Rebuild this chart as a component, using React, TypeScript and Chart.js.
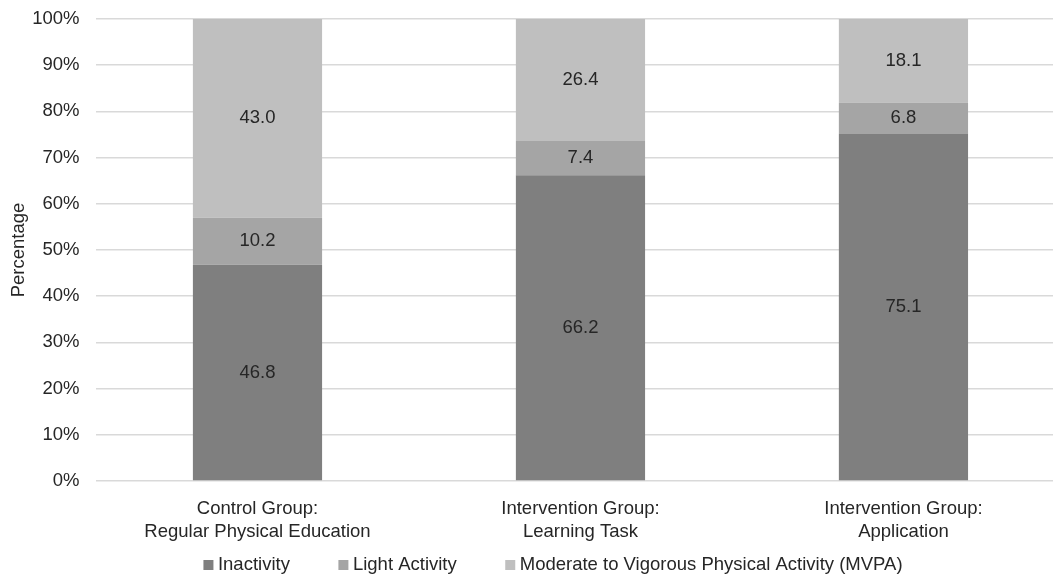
import React, { useEffect, useRef } from "react";
import { Chart, registerables } from "chart.js";

Chart.register(...registerables);

const categories: string[][] = [
  ["Control Group:", "Regular Physical Education"],
  ["Intervention Group:", "Learning Task"],
  ["Intervention Group:", "Application"],
];
const seriesNames = [
  "Inactivity",
  "Light Activity",
  "Moderate to Vigorous Physical Activity (MVPA)",
];
const inactivity = [46.8, 66.2, 75.1];
const lightActivity = [10.2, 7.4, 6.8];
const mvpa = [43.0, 26.4, 18.1];
const yTicks = [0, 10, 20, 30, 40, 50, 60, 70, 80, 90, 100];

const colors = ["#7f7f7f", "#a5a5a5", "#bfbfbf"];
const FONT = "'Liberation Sans', Arial, sans-serif";
const FS = 18.5;
const TEXT = "#262626";

const dataLabelPlugin = {
  id: "dataLabels",
  afterDatasetsDraw(chart: any) {
    const ctx = chart.ctx;
    ctx.save();
    ctx.font = `${FS}px ${FONT}`;
    ctx.fillStyle = TEXT;
    ctx.textAlign = "center";
    ctx.textBaseline = "middle";
    chart.data.datasets.forEach((ds: any, di: number) => {
      const meta = chart.getDatasetMeta(di);
      meta.data.forEach((el: any, i: number) => {
        const v = ds.data[i].y;
        const cy = (el.y + el.base) / 2;
        ctx.fillText(v.toFixed(1), el.x, cy);
      });
    });
    ctx.restore();
  },
};

const legendPlugin = {
  id: "bottomLegend",
  afterDraw(chart: any) {
    const ctx = chart.ctx;
    ctx.save();
    ctx.font = `${FS}px ${FONT}`;
    ctx.textBaseline = "middle";
    ctx.textAlign = "left";
    const box = 10;
    const gapText = 4.5;
    const gapItem = 48.5;
    const items = chart.data.datasets.map((ds: any) => ({
      label: ds.label,
      color: ds.backgroundColor,
      w: box + gapText + ctx.measureText(ds.label).width,
    }));
    const total =
      items.reduce((s: number, it: any) => s + it.w, 0) +
      gapItem * (items.length - 1);
    let x = 553 - total / 2;
    const y = 565;
    items.forEach((it: any) => {
      ctx.fillStyle = it.color;
      ctx.fillRect(x, y - box / 2, box, box);
      ctx.fillStyle = TEXT;
      ctx.fillText(it.label, x + box + gapText, y);
      x += it.w + gapItem;
    });
    ctx.restore();
  },
};

export default function App() {
  const ref = useRef<HTMLCanvasElement | null>(null);

  useEffect(() => {
    if (!ref.current) return;
    const series = [inactivity, lightActivity, mvpa];
    const chart = new Chart(ref.current, {
      type: "bar",
      data: {
        datasets: series.map((vals, si) => ({
          label: seriesNames[si],
          data: vals.map((v, i) => ({ x: i, y: v })),
          backgroundColor: colors[si],
          borderWidth: 0,
          categoryPercentage: 0.4,
          barPercentage: 1,
        })),
      },
      options: {
        responsive: false,
        animation: false,
        devicePixelRatio: 1,
        layout: { padding: { left: 0, right: 0, top: 19, bottom: 34 } },
        plugins: {
          tooltip: { enabled: false },
          legend: { display: false },
        },
        scales: {
          x: {
            type: "linear",
            stacked: true,
            offset: false,
            min: -0.5,
            max: 2.463,
            afterFit: (s: any) => {
              s.height = 63;
              s.paddingLeft = 0;
              s.paddingRight = 0;
              s.paddingTop = 0;
              s.paddingBottom = 0;
            },
            grid: { display: false, drawTicks: false, offset: false },
            border: { display: false },
            ticks: {
              stepSize: 1,
              includeBounds: false,
              autoSkip: false,
              maxRotation: 0,
              padding: 16.5,
              color: TEXT,
              font: { family: FONT, size: FS, lineHeight: 1.243 },
              callback: (v: any) =>
                Number.isInteger(v) && categories[v] ? categories[v] : "",
            },
          },
          y: {
            stacked: true,
            min: 0,
            max: 100,
            afterFit: (s: any) => {
              s.width = 96;
              s.paddingTop = 0;
              s.paddingBottom = 0;
            },
            afterBuildTicks: (s: any) => {
              s.ticks = yTicks.map((v) => ({ value: v }));
            },
            grid: { color: "#d9d9d9", lineWidth: 1.5, drawTicks: false },
            border: { display: false },
            ticks: {
              padding: 16.5,
              color: TEXT,
              font: { family: FONT, size: FS },
              callback: (v: any) => `${v}%`,
            },
            title: {
              display: true,
              text: "Percentage",
              color: TEXT,
              font: { family: FONT, size: FS },
              padding: { top: 8, bottom: 0 },
            },
          },
        },
      },
      plugins: [dataLabelPlugin, legendPlugin],
    });
    return () => chart.destroy();
  }, []);

  return (
    <div
      style={{
        position: "fixed",
        left: 0,
        top: 0,
        width: 1053,
        height: 578,
        background: "#fff",
      }}
    >
      <canvas ref={ref} width={1053} height={578} />
    </div>
  );
}
